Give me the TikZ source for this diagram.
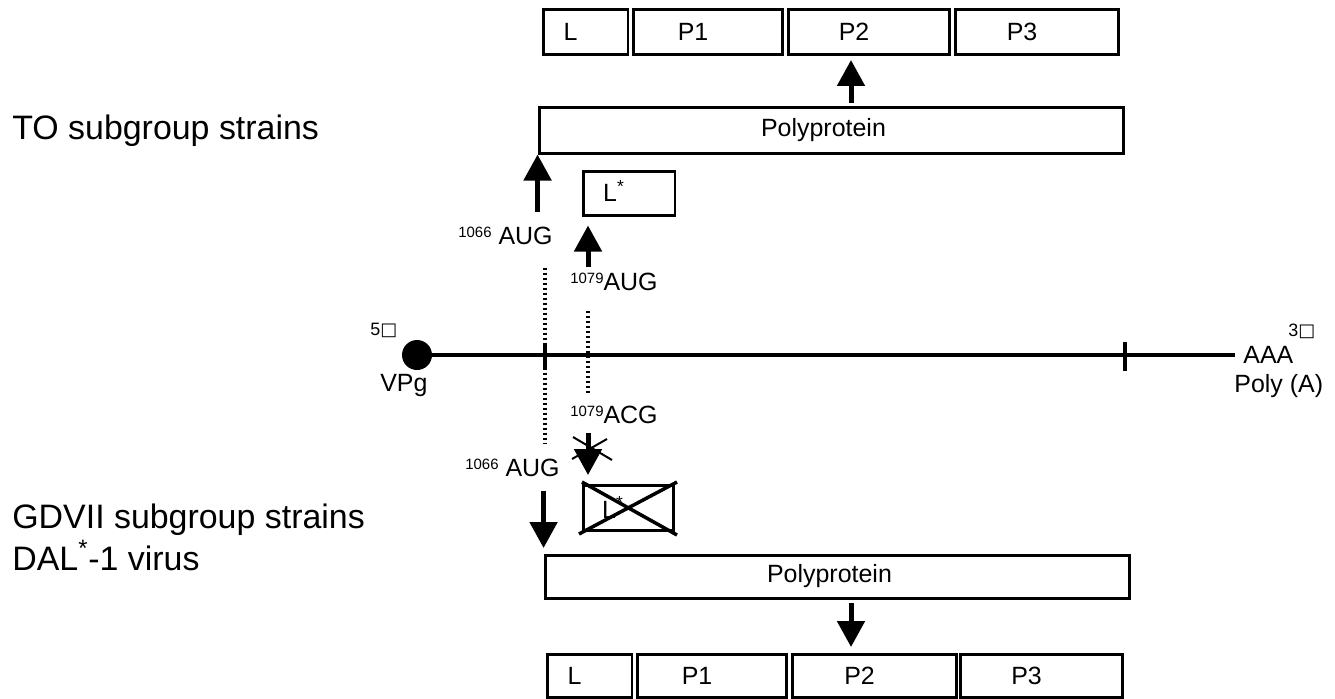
\documentclass[tikz,border=0pt]{standalone}
\usepackage{fontspec}
\setmainfont{Liberation Sans}
\newfontfamily\symfont{DejaVu Sans}
\usetikzlibrary{arrows.meta,positioning}

\newcommand{\supn}[1]{\raisebox{3.6pt}{\fontsize{8.5pt}{10pt}\selectfont #1}}

\begin{document}
\begin{tikzpicture}[
    x=0.02cm, y=-0.02cm,
    >={Triangle[width=0.54cm,length=0.52cm]},
    prot/.style={rectangle, draw, line width=0.06cm, inner sep=0pt, minimum height=0.9cm, font=\fontsize{14.2pt}{16pt}\selectfont, execute at end node={\hspace{0.6cm}}},
    poly/.style={rectangle, draw, line width=0.06cm, inner sep=0pt, minimum width=11.7cm, font=\fontsize{14.2pt}{16pt}\selectfont, execute at end node={\hspace{0.32cm}}},
    arrow/.style={->, line width=0.1cm},
    dots/.style={line width=0.065cm, dash pattern=on 0.05cm off 0.05cm},
    rna/.style={line width=0.07cm},
    codon/.style={anchor=base west, inner sep=0pt, font=\fontsize{14.2pt}{16pt}\selectfont},
    small/.style={anchor=base west, inner sep=0pt, font=\fontsize{10.2pt}{12pt}\selectfont},
    group/.style={anchor=base west, inner sep=0pt, align=left, font=\fontsize{19.3pt}{23.9pt}\selectfont},
]
\useasboundingbox (0,0) rectangle (1335,698);

% columns of the two start codons
\coordinate (colA) at (545,0);
\coordinate (colB) at (588,0);
\coordinate (split) at (851,0);

% TO subgroup
\node[group] (to) at (12,139) {TO subgroup strains};
\node[prot, minimum width=1.7cm] (topL) at (585.5,31.5) {L};
\node[prot, minimum width=3.0cm] (topP1) at (708,31.5) {P1};
\node[prot, minimum width=3.24cm] (topP2) at (869,31.5) {P2};
\node[prot, minimum width=3.28cm] (topP3) at (1037,31.5) {P3};
\node[poly, minimum height=0.92cm] (topPoly) at (831.5,130) {Polyprotein};
\node[prot, minimum width=1.84cm, minimum height=0.88cm] (lstar) at (629,193) {\raisebox{2pt}{L\textsuperscript{*}}};
\node[codon] (aug1066a) at (458,244) {\supn{1066} AUG};
\node[codon] (aug1079) at (570,290) {\supn{1079}AUG};

\draw[arrow, shorten <=0.05cm, shorten >=0.09cm] (topPoly.north -| split) -- (topP2.south -| split);
\draw[arrow, shorten <=0.28cm] (aug1066a.north -| topPoly.south west) -- (topPoly.south west);
\draw[arrow, shorten <=0.1cm, shorten >=0.18cm] (aug1079.north -| colB) -- (lstar.south -| colB);

% genome
\node[circle, fill, inner sep=0pt, minimum size=0.6cm] (vpg) at (417,355) {};
\coordinate (polyA) at (1235,355);
\draw[rna] (vpg) -- (polyA);
\draw[rna] (545,343) -- (545,368);
\draw[rna] (1125,342) -- (1125,371);
\node[small] (five) at (370,335) {5{\symfont □}};
\node[codon] (vpglab) at (380,391) {VPg};
\node[small] (three) at (1288,336) {3{\symfont □}};
\node[codon] (aaa) at (1243,363) {AAA};
\node[codon] (polyAlab) at (1234,392) {Poly (A)};

% GDVII subgroup
\node[codon] (acg1079) at (570,423) {\supn{1079}ACG};
\node[codon] (aug1066b) at (465,476) {\supn{1066} AUG};
\node[prot, minimum width=1.8cm] (lcross) at (628,507.5) {L\textsuperscript{*}};
\node[poly, minimum height=0.86cm] (botPoly) at (837.5,576.5) {Polyprotein};
\node[prot, minimum width=1.7cm, minimum height=0.86cm] (botL) at (589.5,675.5) {L};
\node[prot, minimum width=3.0cm, minimum height=0.86cm] (botP1) at (712,675.5) {P1};
\node[prot, minimum width=3.3cm, minimum height=0.86cm] (botP2) at (874.5,675.5) {P2};
\node[prot, minimum width=3.26cm, minimum height=0.86cm] (botP3) at (1041.5,675.5) {P3};
\node[group] (gdvii) at (12,570) {GDVII subgroup strains\\DAL\textsuperscript{*}-1 virus};

\draw[dots, shorten <=0.46cm, shorten >=0.3cm] (aug1066a.south -| colA) -- (aug1066b.north -| colA);
\draw[dots, shorten <=0.4cm, shorten >=0.2cm] (aug1079.south -| colB) -- (acg1079.north -| colB);
\draw[arrow, shorten <=0.18cm, shorten >=0.17cm] (acg1079.south -| colB) -- (lcross.north -| colB);
\draw[line width=0.04cm] (573,437) -- (612,460);
\draw[line width=0.04cm] (572,459) -- (607,439);
\draw[line width=0.07cm] (579,534) -- (677,482);
\draw[line width=0.07cm] (582,482) -- (677,535);
\draw[arrow, shorten <=0.28cm, shorten >=0.11cm] (aug1066b.south -| botPoly.north west) -- (botPoly.north west);
\draw[arrow, shorten <=0.07cm, shorten >=0.11cm] (botPoly.south -| split) -- (botP2.north -| split);
\end{tikzpicture}
\end{document}
